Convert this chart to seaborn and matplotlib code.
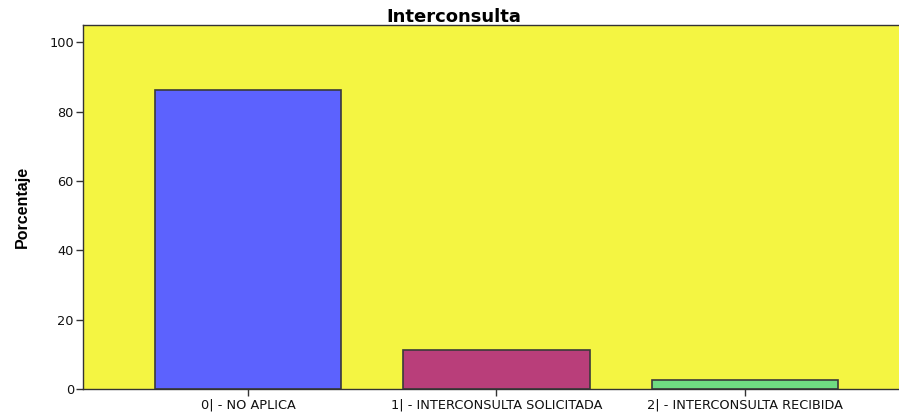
import pandas as pd
import matplotlib.pyplot as plt
import seaborn as sns

categories = ["0| - NO APLICA", "1| - INTERCONSULTA SOLICITADA", "2| - INTERCONSULTA RECIBIDA"]
percentages = [86.2, 11.2, 2.6]
bar_colors = ["#5c62fe", "#b93e7a", "#6fdc82"]
y_ticks = [0, 20, 40, 60, 80, 100]

df = pd.DataFrame({"categoria": categories, "porcentaje": percentages})

sns.set_style("white")
plt.rcParams['font.family'] = ['DejaVu Sans']

fig = plt.figure(figsize=(8.99, 4.12), dpi=100)
# axes run to the right edge of the figure, like the original export
ax = fig.add_axes([0.0923, 0.0558, 0.9077, 0.8832])
ax.set_facecolor("#f4f542")

sns.barplot(data=df, x="categoria", y="porcentaje", hue="categoria",
            palette=bar_colors, saturation=1, width=0.75, edgecolor="#3a3a3a",
            linewidth=1.2, legend=False, ax=ax)

ax.set_xlim(-0.664, 2.62)
ax.set_ylim(0, 105)
ax.set_yticks(y_ticks)
ax.tick_params(axis="both", direction="out", length=5, width=1, color="#333333",
               labelsize=9.3, pad=1.5, left=True, bottom=True, labelcolor="#111111")
for sp in ax.spines.values():
    sp.set_color("#333333")
    sp.set_linewidth(1)
ax.spines["right"].set_visible(False)

ax.set_xlabel("")
ax.set_ylabel("Porcentaje", fontsize=11.5, fontweight="bold", color="black",
              family=["Liberation Sans", "DejaVu Sans"], labelpad=14)
ax.set_title("Interconsulta", fontsize=13, fontweight="bold", color="black",
             pad=2, x=0.455)

fig.savefig("out.png", dpi=100)
